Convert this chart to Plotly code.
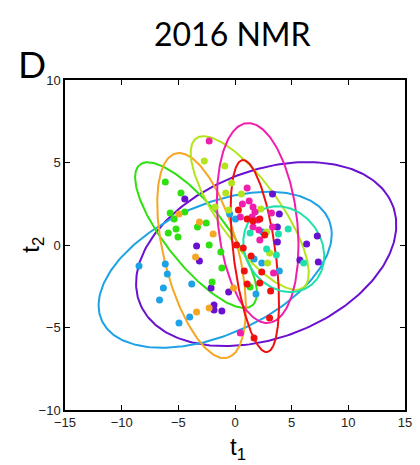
import numpy as np
import plotly.graph_objects as go

# ---- data ----
groups = ["purple", "blue", "green", "orange", "yellowgreen", "magenta", "red", "teal"]
colors = {
    "purple": "#6a10d0",
    "blue": "#1ea2e6",
    "green": "#2ee010",
    "orange": "#f5a623",
    "yellowgreen": "#b4e41e",
    "magenta": "#f01eac",
    "red": "#f01010",
    "teal": "#1ee0aa",
}

purple_x = [-4.43, 3.31, 3.91, 3.74, 3.74, 7.26, 6.32, 5.72, 7.35, -3.39, -3.14, -2.11, -0.56, -1.85, -1.85, -1.16]
purple_y = [2.79, 3.09, 1.88, 1.09, 0.18, 0.55, 0.06, -0.91, -1.03, -0.06, -0.97, -2.61, -2.85, -3.64, -3.94, -4.0]

blue_x = [-0.47, 0.04, 2.45, 1.68, 2.36, 3.91, 1.85, -8.47, -6.15, -5.97, -3.82, -6.32, -6.66, -4.0, -4.94]
blue_y = [1.88, 1.58, 0.79, -0.85, -1.09, -1.58, -2.97, -1.27, -1.15, -1.76, -2.36, -2.61, -3.33, -4.36, -4.73]

green_x = [-6.15, -4.77, -5.72, -4.43, -5.37, -2.54, -3.31, -5.2, -5.89, -5.03, -2.28, -1.25, -1.16, -2.02, 1.33]
green_y = [3.82, 3.15, 1.94, 2.0, 1.58, 1.33, 1.09, 0.97, 0.73, 0.48, 0.0, -0.42, -1.39, -2.24, -2.55]

orange_x = [-4.94, -3.14, -1.93, -3.48, -0.13, -2.28, -3.39]
orange_y = [1.88, 1.39, 0.67, -0.73, -2.61, -3.82, -4.06]

yellowgreen_x = [-2.71, -0.9, -0.3, -0.82, 0.56, -1.76, -0.56, 2.28, 2.79, 3.05, 2.88]
yellowgreen_y = [5.09, 4.79, 3.76, 3.15, 3.09, 2.3, 2.12, 2.18, 0.79, -0.48, -1.09]

magenta_x = [-2.28, 1.07, 0.65, 1.25, 1.59, 1.76, 3.22, 0.47, 1.5, 2.02, 3.31, 1.59, 2.11, 2.19, 3.4, 0.47]
magenta_y = [6.3, 3.45, 2.48, 2.67, 2.3, 2.0, 1.94, 1.7, 1.7, 1.52, 1.09, 1.09, 0.91, 0.3, -1.7, -5.33]

red_x = [0.3, 1.07, 1.59, 2.19, 2.62, 0.13, 0.73, 1.42, 0.82, 2.36, 1.07, 2.19, 3.14, 3.05, 1.68]
red_y = [2.12, 1.58, 1.45, 1.58, 0.61, 0.0, -0.18, -0.67, -1.58, -1.64, -2.36, -2.3, -2.79, -4.42, -5.64]

teal_x = [1.33, 4.69, 3.83, 2.79, 3.65, 6.06]
teal_y = [0.73, 0.97, 0.67, -0.24, -0.61, -1.09]

# ellipse parameters: center x, center y, semi-major, semi-minor, angle (deg)
ell_cx = {"purple": 2.75, "blue": -1.75, "green": -3.44, "orange": -2.95, "yellowgreen": 1.3,
          "magenta": 2.0, "red": 1.75, "teal": 4.3}
ell_cy = {"purple": -0.55, "blue": -1.5, "green": 0.6, "orange": -0.64, "yellowgreen": 1.94,
          "magenta": 1.33, "red": -0.67, "teal": -0.25}
ell_a = {"purple": 11.65, "blue": 10.55, "green": 6.6, "orange": 6.63, "yellowgreen": 6.6,
         "magenta": 6.14, "red": 5.92, "teal": 3.62}
ell_b = {"purple": 5.21, "blue": 4.1, "green": 2.19, "orange": 3.16, "yellowgreen": 2.29,
         "magenta": 3.46, "red": 1.84, "teal": 2.53}
ell_ang = {"purple": 11.0, "blue": 14.0, "green": -38.0, "orange": -66.7, "yellowgreen": -40.9,
           "magenta": -78.6, "red": -78.9, "teal": -13.3}

pts = {
    "purple": (purple_x, purple_y), "blue": (blue_x, blue_y), "green": (green_x, green_y),
    "orange": (orange_x, orange_y), "yellowgreen": (yellowgreen_x, yellowgreen_y),
    "magenta": (magenta_x, magenta_y), "red": (red_x, red_y), "teal": (teal_x, teal_y),
}

x_ticks = [-15, -10, -5, 0, 5, 10, 15]
y_ticks = [-10, -5, 0, 5, 10]

W, H = 420, 465
ML, MR, MT, MB = 65, 8, 80, 55

fig = go.Figure()

t = np.linspace(0, 2 * np.pi, 240)
for g in groups:
    th = np.deg2rad(ell_ang[g])
    ex = ell_cx[g] + ell_a[g] * np.cos(t) * np.cos(th) - ell_b[g] * np.sin(t) * np.sin(th)
    ey = ell_cy[g] + ell_a[g] * np.cos(t) * np.sin(th) + ell_b[g] * np.sin(t) * np.cos(th)
    fig.add_trace(go.Scatter(x=ex, y=ey, mode="lines", line=dict(color=colors[g], width=2),
                             hoverinfo="skip", showlegend=False))

for g in groups:
    xs, ys = pts[g]
    fig.add_trace(go.Scatter(x=xs, y=ys, mode="markers",
                             marker=dict(color=colors[g], size=7, line=dict(width=0)),
                             showlegend=False))

axis_common = dict(showgrid=False, zeroline=False, showline=True, linecolor="black", linewidth=1.5,
                   mirror="ticks", ticks="inside", ticklen=5, tickwidth=1.2, tickcolor="black",
                   tickfont=dict(family="Liberation Sans, Arial", size=13, color="#222"))

pw, ph = W - ML - MR, H - MT - MB


def px_x(px):
    return (px - ML) / pw


def px_y(py):
    return (H - MB - py) / ph


fig.update_layout(
    width=W, height=H,
    margin=dict(l=ML, r=MR, t=MT, b=MB),
    paper_bgcolor="white", plot_bgcolor="white",
    xaxis=dict(range=[-15, 15], tickvals=x_ticks, **axis_common),
    yaxis=dict(range=[-10, 10], tickvals=y_ticks, **axis_common),
    annotations=[
        dict(text="2016 NMR", x=px_x(236), y=px_y(33), xref="paper", yref="paper", showarrow=False,
             xanchor="center", yanchor="middle", font=dict(family="Lato", size=32, color="black")),
        dict(text="D", x=px_x(31), y=px_y(64), xref="paper", yref="paper", showarrow=False,
             xanchor="center", yanchor="middle", font=dict(family="Lato", size=37, color="black")),
        dict(text="t<sub>1</sub>", x=px_x(242), y=px_y(448), xref="paper", yref="paper", showarrow=False,
             xanchor="center", yanchor="middle", font=dict(family="Liberation Sans, Arial", size=24, color="black")),
        dict(text="t<sub>2</sub>", x=px_x(31), y=px_y(245), xref="paper", yref="paper", showarrow=False,
             textangle=-90, xanchor="center", yanchor="middle",
             font=dict(family="Liberation Sans, Arial", size=24, color="black")),
    ],
)

fig.write_html("out.html", config={"displayModeBar": False},
               post_script="document.body.style.margin='0px';document.body.style.overflow='hidden';")
